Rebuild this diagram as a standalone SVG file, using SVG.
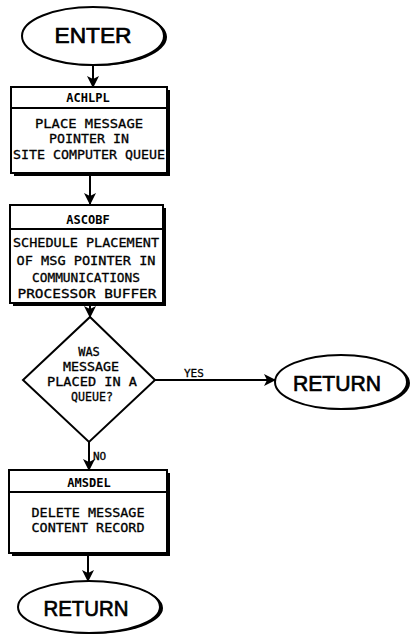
<svg xmlns="http://www.w3.org/2000/svg" width="413" height="636" viewBox="0 0 413 636">
  <style>
    .shape { fill: #fff; stroke: #000; stroke-width: 2; }
    .shadow { fill: #000; }
    .line { fill: none; stroke: #000; stroke-width: 2; }
    .term { font-family: "Liberation Sans", "DejaVu Sans", sans-serif; font-size: 22px; text-anchor: middle; fill: #000; stroke: #000; stroke-width: 0.7; }
    .hdr { font-family: "DejaVu Sans Mono", "Liberation Mono", monospace; font-size: 12px; font-weight: bold; text-anchor: middle; fill: #000; }
    .body { font-family: "DejaVu Sans Mono", "Liberation Mono", monospace; font-size: 13px; text-anchor: middle; fill: #000; stroke: #000; stroke-width: 0.3; }
    .dec { font-family: "DejaVu Sans Mono", "Liberation Mono", monospace; font-size: 12px; text-anchor: middle; fill: #000; stroke: #000; stroke-width: 0.3; }
    .lbl { font-family: "DejaVu Sans Mono", "Liberation Mono", monospace; font-size: 11px; fill: #000; stroke: #000; stroke-width: 0.3; }
  </style>
  <defs>
    <marker id="arrow" viewBox="0 0 12 12" refX="11" refY="6" markerWidth="12" markerHeight="12" markerUnits="userSpaceOnUse" orient="auto">
      <path d="M0,0 L12,6 L0,12 L3,6 Z" fill="#000"/>
    </marker>
  </defs>

  <rect width="413" height="636" fill="#fff"/>

  <!-- connectors -->
  <g id="connectors">
    <line class="line" x1="93" y1="65" x2="93" y2="87" marker-end="url(#arrow)"/>
    <line class="line" x1="90" y1="176" x2="90" y2="204" marker-end="url(#arrow)"/>
    <line class="line" x1="90" y1="305" x2="90" y2="317" marker-end="url(#arrow)"/>
    <line class="line" x1="155" y1="380" x2="275" y2="380" marker-end="url(#arrow)"/>
    <text class="lbl" x="184" y="377">YES</text>
    <line class="line" x1="89" y1="442" x2="89" y2="470" marker-end="url(#arrow)"/>
    <text class="lbl" x="93" y="460">NO</text>
    <line class="line" x1="88" y1="555" x2="88" y2="581" marker-end="url(#arrow)"/>
  </g>

  <!-- start terminal -->
  <g id="enter">
    <ellipse class="shadow" cx="96" cy="37" rx="71" ry="29"/>
    <ellipse class="shape" cx="93" cy="36" rx="71" ry="29"/>
    <text class="term" x="93" y="43" textLength="77" lengthAdjust="spacingAndGlyphs">ENTER</text>
  </g>

  <!-- process ACHLPL -->
  <g id="achlpl">
    <rect class="shadow" x="14" y="90" width="156" height="86"/>
    <rect class="shape" x="11" y="87" width="156" height="86"/>
    <line class="line" x1="11" y1="108" x2="167" y2="108"/>
    <text class="hdr" x="88" y="102">ACHLPL</text>
    <text class="body" x="89" y="128" textLength="108" lengthAdjust="spacingAndGlyphs">PLACE MESSAGE</text>
    <text class="body" x="89" y="143" textLength="80" lengthAdjust="spacingAndGlyphs">POINTER IN</text>
    <text class="body" x="89" y="159" textLength="152" lengthAdjust="spacingAndGlyphs">SITE COMPUTER QUEUE</text>
  </g>

  <!-- process ASCOBF -->
  <g id="ascobf">
    <rect class="shadow" x="13" y="208" width="153" height="98"/>
    <rect class="shape" x="10" y="205" width="153" height="98"/>
    <line class="line" x1="10" y1="229" x2="163" y2="229"/>
    <text class="hdr" x="88" y="224">ASCOBF</text>
    <text class="body" x="86" y="247" textLength="146" lengthAdjust="spacingAndGlyphs">SCHEDULE PLACEMENT</text>
    <text class="body" x="86" y="265" textLength="139" lengthAdjust="spacingAndGlyphs">OF MSG POINTER IN</text>
    <text class="body" x="86" y="282" textLength="108" lengthAdjust="spacingAndGlyphs">COMMUNICATIONS</text>
    <text class="body" x="87" y="298" textLength="139" lengthAdjust="spacingAndGlyphs">PROCESSOR BUFFER</text>
  </g>

  <!-- decision -->
  <g id="decision">
    <polygon class="shape" points="90,317 155,380 89,442 23,380"/>
    <text class="dec" x="89" y="356">WAS</text>
    <text class="dec" x="91" y="371" textLength="56" lengthAdjust="spacingAndGlyphs">MESSAGE</text>
    <text class="dec" x="92" y="386" textLength="90" lengthAdjust="spacingAndGlyphs">PLACED IN A</text>
    <text class="dec" x="92" y="401" textLength="42" lengthAdjust="spacingAndGlyphs">QUEUE?</text>
  </g>

  <!-- return terminal (yes branch) -->
  <g id="return-yes">
    <ellipse class="shadow" cx="344" cy="383" rx="66" ry="27"/>
    <ellipse class="shape" cx="341" cy="382" rx="66" ry="27"/>
    <text class="term" x="337" y="391" textLength="88" lengthAdjust="spacingAndGlyphs">RETURN</text>
  </g>

  <!-- process AMSDEL -->
  <g id="amsdel">
    <rect class="shadow" x="12" y="473" width="158" height="83"/>
    <rect class="shape" x="9" y="470" width="158" height="83"/>
    <line class="line" x1="9" y1="492" x2="167" y2="492"/>
    <text class="hdr" x="89" y="487">AMSDEL</text>
    <text class="body" x="88" y="517" textLength="113" lengthAdjust="spacingAndGlyphs">DELETE MESSAGE</text>
    <text class="body" x="88" y="532" textLength="113" lengthAdjust="spacingAndGlyphs">CONTENT RECORD</text>
  </g>

  <!-- return terminal (end) -->
  <g id="return-end">
    <ellipse class="shadow" cx="92" cy="608" rx="71" ry="26"/>
    <ellipse class="shape" cx="89" cy="607" rx="71" ry="26"/>
    <text class="term" x="86" y="616" textLength="85" lengthAdjust="spacingAndGlyphs">RETURN</text>
  </g>
</svg>
